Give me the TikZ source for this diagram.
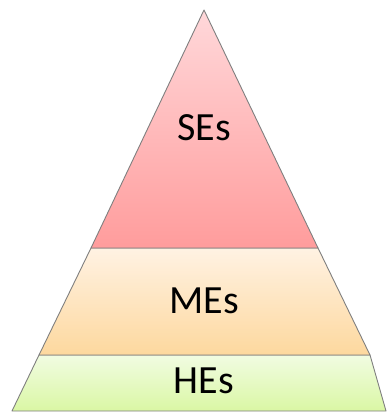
\documentclass[tikz,border=0pt]{standalone}
\usepackage{fontspec}
\setmainfont{Carlito}
\usepackage{tikz}
\usetikzlibrary{calc}

\definecolor{edgegray}{HTML}{7F7F7F}
\definecolor{setop}{HTML}{FFD8DA}
\definecolor{sebot}{HTML}{FF9C9C}
\definecolor{metop}{HTML}{FFF2E3}
\definecolor{mebot}{HTML}{FDD89E}
\definecolor{hetop}{HTML}{F1FCE2}
\definecolor{hebot}{HTML}{DAF7A4}

\tikzset{
  band/.style={draw=edgegray,line width=0.9pt,line join=round},
  lvl/.style={anchor=base,font=\fontsize{40}{48}\selectfont,text=black,inner sep=0pt}
}

\begin{document}
\begin{tikzpicture}[x=1pt,y=-1pt]
        \useasboundingbox (0,0) rectangle (388,414);
        \clip (0,0) rectangle (388,414);

        % bottom band
        \draw[band,top color=hetop,bottom color=hebot]
        (39,355)--(370,355)--(386,411)--(12,411)--cycle;
        % middle band
        \draw[band,top color=metop,bottom color=mebot]
        (91,248)--(318,248)--(370,355)--(39,355)--cycle;
        % top band
        \draw[band,top color=setop,bottom color=sebot]
        (204,10)--(318,248)--(91,248)--cycle;

        \node[lvl] (se) at (204,140) {SEs};
        \node[lvl] (me) at (204,313) {MEs};
        \node[lvl] (he) at (204,393) {HEs};
    \end{tikzpicture}
\end{document}
